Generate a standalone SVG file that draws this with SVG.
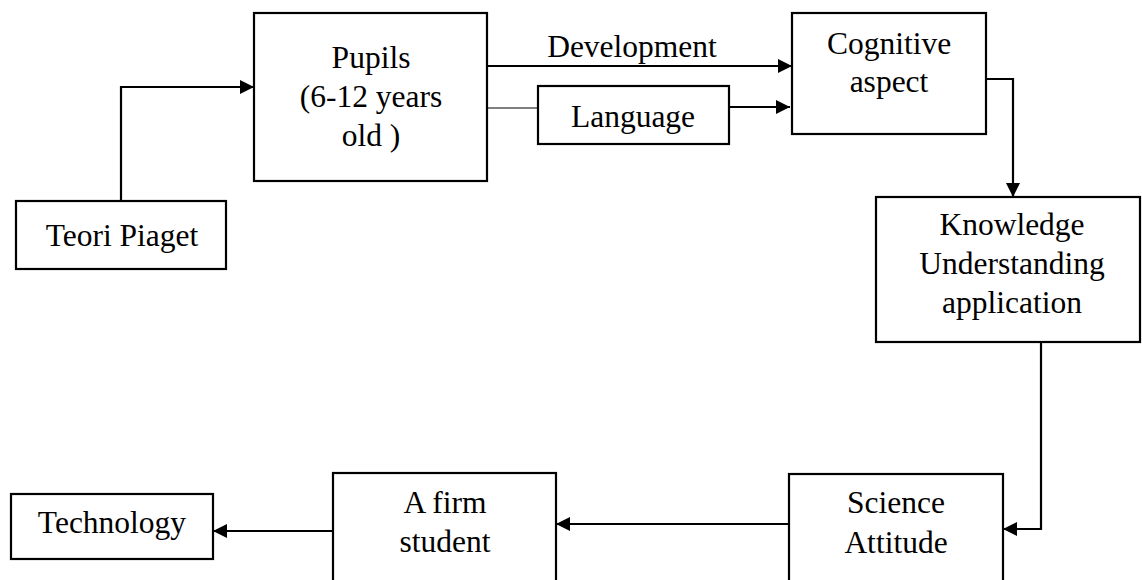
<svg xmlns="http://www.w3.org/2000/svg" width="1142" height="580" viewBox="0 0 1142 580">
<style>
.box{fill:#fff;stroke:#000;stroke-width:2.2}
text{font-family:'Liberation Serif','Times New Roman',Times,serif;font-size:31.5px;fill:#000;text-anchor:middle}
.c{fill:none;stroke:#000;stroke-width:2.2}
.thin{fill:none;stroke:#000;stroke-width:1.2}
</style>
<defs>
<marker id="ah" markerWidth="14" markerHeight="14" viewBox="0 0 14 14" refX="14" refY="7" orient="auto" markerUnits="userSpaceOnUse">
<path d="M0,0 L14,7 L0,14 Z" fill="#000"/>
</marker>
</defs>
<rect width="1142" height="580" fill="#fff"/>
<g id="connectors">
<path class="c" d="M121,201 V87 H254" marker-end="url(#ah)"/>
<path class="c" d="M487,66 H792" marker-end="url(#ah)"/>
<path class="thin" d="M487,108 H538"/>
<path class="c" d="M729,107 H790" marker-end="url(#ah)"/>
<path class="c" d="M986,79 H1013 V197" marker-end="url(#ah)"/>
<path class="c" d="M1041,342 V529 H1003" marker-end="url(#ah)"/>
<path class="c" d="M789,524 H556" marker-end="url(#ah)"/>
<path class="c" d="M333,531 H213" marker-end="url(#ah)"/>
</g>
<g id="teori">
<rect class="box" x="16" y="201" width="210" height="68"/>
<text x="122" y="246" font-family="Liberation Serif, serif">Teori Piaget</text>
</g>
<g id="pupils">
<rect class="box" x="254" y="13" width="233" height="168"/>
<text x="371" y="68" font-family="Liberation Serif, serif">Pupils</text>
<text x="371" y="107" font-family="Liberation Serif, serif">(6-12 years</text>
<text x="371" y="146" font-family="Liberation Serif, serif">old )</text>
</g>
<g id="development-label">
<text x="632" y="57" font-family="Liberation Serif, serif">Development</text>
</g>
<g id="language">
<rect class="box" x="538" y="86" width="191" height="58"/>
<text x="633" y="127" font-family="Liberation Serif, serif">Language</text>
</g>
<g id="cognitive">
<rect class="box" x="792" y="13" width="194" height="121"/>
<text x="889" y="54" font-family="Liberation Serif, serif">Cognitive</text>
<text x="889" y="92" font-family="Liberation Serif, serif">aspect</text>
</g>
<g id="knowledge">
<rect class="box" x="876" y="197" width="264" height="145"/>
<text x="1012" y="235" font-family="Liberation Serif, serif">Knowledge</text>
<text x="1012" y="274" font-family="Liberation Serif, serif">Understanding</text>
<text x="1012" y="313" font-family="Liberation Serif, serif">application</text>
</g>
<g id="science">
<rect class="box" x="789" y="474" width="214" height="130"/>
<text x="896" y="513" font-family="Liberation Serif, serif">Science</text>
<text x="896" y="553" font-family="Liberation Serif, serif">Attitude</text>
</g>
<g id="firm">
<rect class="box" x="333" y="473" width="223" height="130"/>
<text x="445" y="513" font-family="Liberation Serif, serif">A firm</text>
<text x="445" y="552" font-family="Liberation Serif, serif">student</text>
</g>
<g id="technology">
<rect class="box" x="11" y="494" width="202" height="65"/>
<text x="112" y="533" font-family="Liberation Serif, serif">Technology</text>
</g>
</svg>
